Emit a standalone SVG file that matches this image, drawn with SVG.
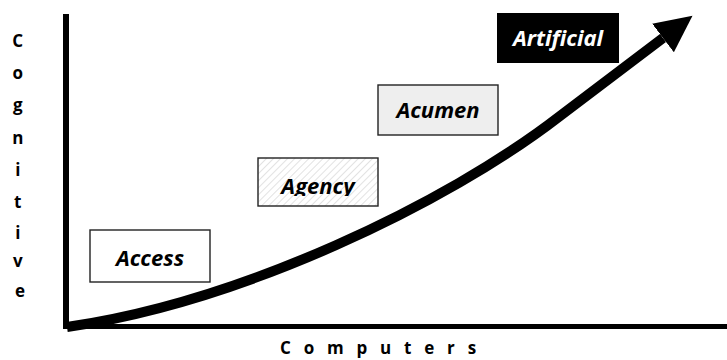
<svg xmlns="http://www.w3.org/2000/svg" width="727" height="360" viewBox="0 0 727 360">
<style>
.lbl{font-family:"Open Sans","Liberation Sans",sans-serif;font-weight:bold;font-style:italic;font-size:22px;text-anchor:middle}
.ax{font-family:"Open Sans","Liberation Sans",sans-serif;font-weight:bold;font-size:17px;fill:#000}
.box{stroke:#222;stroke-width:1.4}
</style>
<defs>
<pattern id="hatch" width="5" height="5" patternUnits="userSpaceOnUse" patternTransform="rotate(45)">
<rect width="5" height="5" fill="#fff"/>
<line x1="0" y1="0" x2="0" y2="5" stroke="#cfcfcf" stroke-width="1.2"/>
</pattern>
<marker id="head" markerUnits="userSpaceOnUse" markerWidth="40" markerHeight="40" refX="0" refY="20" orient="auto" viewBox="0 0 40 40">
<path d="M0,2 L37,20 L0,38 Z" fill="#000"/>
</marker>
<clipPath id="agclip"><rect x="258" y="158" width="120" height="38"/></clipPath>
</defs>
<g id="axes">
<line x1="66" y1="14" x2="66" y2="329" stroke="#000" stroke-width="6"/>
<line x1="63" y1="326.5" x2="727" y2="326.5" stroke="#000" stroke-width="5"/>
</g>
<g id="connectors">
<path d="M67,327 C240,302 445,205 560,116 L663,38" fill="none" stroke="#000" stroke-width="10" marker-end="url(#head)"/>
</g>
<g id="access">
<rect class="box" x="90" y="230" width="120" height="52" fill="#fff"/>
<text class="lbl" x="150" y="266">Access</text>
</g>
<g id="agency">
<rect class="box" x="258" y="158" width="120" height="48" fill="url(#hatch)" stroke-width="2"/>
<text class="lbl" x="318" y="194" clip-path="url(#agclip)">Agency</text>
</g>
<g id="acumen">
<rect class="box" x="378" y="85" width="120" height="50" fill="#eeeeee" stroke-width="1.6"/>
<text class="lbl" x="438" y="118">Acumen</text>
</g>
<g id="artificial">
<rect x="497" y="13" width="122" height="50" fill="#000"/>
<text class="lbl" x="558" y="46" fill="#fff">Artificial</text>
</g>
<g id="ylabel">
<text class="ax" text-anchor="middle">
<tspan x="20" y="47">C</tspan>
<tspan x="20" y="79">o</tspan>
<tspan x="20" y="111">g</tspan>
<tspan x="20" y="144">n</tspan>
<tspan x="20" y="176">i</tspan>
<tspan x="20" y="208">t</tspan>
<tspan x="20" y="239">i</tspan>
<tspan x="20" y="267">v</tspan>
<tspan x="20" y="297">e</tspan>
</text>
</g>
<g id="xlabel">
<text class="ax" x="280" y="354" letter-spacing="4.2" xml:space="preserve">C o m p u t e r s</text>
</g>
</svg>
